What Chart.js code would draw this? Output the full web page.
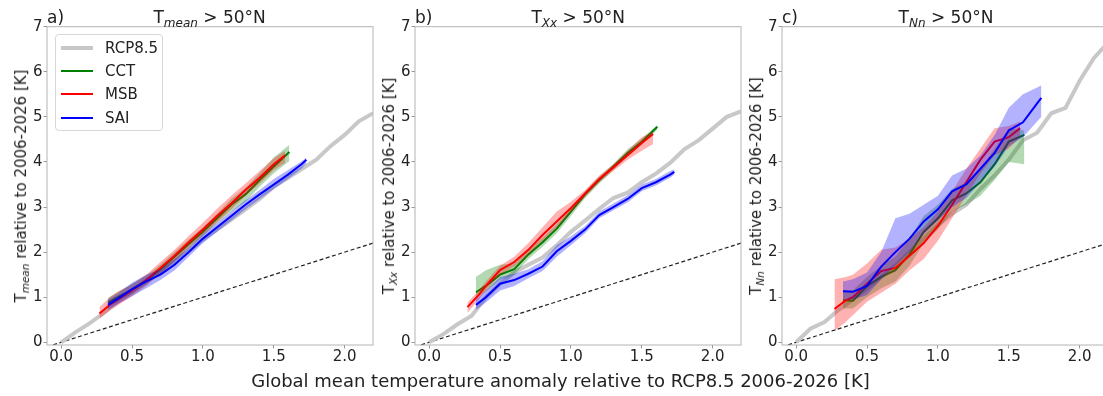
<!DOCTYPE html>
<html>
<head>
<meta charset="utf-8">
<script src="https://cdn.jsdelivr.net/npm/chart.js@4.4.1/dist/chart.umd.min.js"></script>
<style>
    body { margin: 0; background: #fff; font-family: "DejaVu Sans", sans-serif; color: #222; }
    #wrap { position: relative; width: 1103px; height: 396px; overflow: hidden; }
    canvas { position: absolute; top: 0; }
    .ttl { position: absolute; top: 7px; font-size: 17px; white-space: nowrap; line-height: normal; }
    .ttl.center { transform: translateX(-50%); }
    .sub { font-style: italic; position: relative; }
    .ylab { position: absolute; font-size: 15px; white-space: nowrap; line-height: normal;
            transform: translate(-50%, -50%) rotate(-90deg); }
    #xlab { position: absolute; left: 560.5px; top: 370px; transform: translateX(-50%);
            font-size: 18px; white-space: nowrap; line-height: normal; }
    #legend { position: absolute; left: 55px; top: 34px; width: 108px; height: 97px; box-sizing: border-box;
              border: 1px solid #d6d6d6; border-radius: 4px; background: rgba(255,255,255,0.85); }
    .leg { position: absolute; left: 5px; height: 20px; display: flex; align-items: center; font-size: 15px; }
    .leg i { display: inline-block; width: 32px; margin-right: 12px; }
</style>
</head>
<body>
<div id="wrap">
    <canvas id="chartA" width="376" height="372"></canvas>
    <canvas id="chartB" width="376" height="372"></canvas>
    <canvas id="chartC" width="376" height="372"></canvas>

    <div class="ttl" style="left:47px">a)</div>
    <div class="ttl" style="left:415px">b)</div>
    <div class="ttl" style="left:782px">c)</div>
    <div class="ttl center" style="left:209.6px">T<span class="sub" style="font-size:12px;top:4px">mean</span> &gt; 50°N</div>
    <div class="ttl center" style="left:578.2px">T<span class="sub" style="font-size:12px;top:4px">Xx</span> &gt; 50°N</div>
    <div class="ttl center" style="left:946px">T<span class="sub" style="font-size:12px;top:4px">Nn</span> &gt; 50°N</div>

    <div class="ylab" style="left:21px;top:186px">T<span class="sub" style="font-size:10.5px;top:3px">mean</span> relative to 2006-2026 [K]</div>
    <div class="ylab" style="left:389px;top:186px">T<span class="sub" style="font-size:10.5px;top:3px">Xx</span> relative to 2006-2026 [K]</div>
    <div class="ylab" style="left:756px;top:186px">T<span class="sub" style="font-size:10.5px;top:3px">Nn</span> relative to 2006-2026 [K]</div>

    <div id="xlab">Global mean temperature anomaly relative to RCP8.5 2006-2026 [K]</div>

    <div id="legend"></div>
</div>

<script>
// 坐标轴刻度
const xTicks = [0, 0.5, 1, 1.5, 2];
const yTicks = [0, 1, 2, 3, 4, 5, 6, 7];

// 各情景的全球升温 x 值
const xGray = [0, 0.1, 0.2, 0.3, 0.4, 0.5, 0.6, 0.7, 0.8, 0.9, 1.0, 1.1, 1.2, 1.3, 1.4, 1.5, 1.6, 1.7, 1.8, 1.9, 2.0, 2.1, 2.2];
const xCCT = [0.33, 0.4, 0.5, 0.6, 0.7, 0.8, 0.9, 1.0, 1.1, 1.2, 1.3, 1.4, 1.5, 1.61];
const xMSB = [0.27, 0.35, 0.4, 0.5, 0.6, 0.7, 0.8, 0.9, 1.0, 1.1, 1.2, 1.3, 1.4, 1.5, 1.58];
const xSAI = [0.33, 0.4, 0.5, 0.6, 0.7, 0.8, 0.9, 1.0, 1.1, 1.2, 1.3, 1.4, 1.5, 1.6, 1.7, 1.73];
const xOneToOne = [-0.1, 2.2];
const yOneToOne = [-0.1, 2.2];

// a) Tmean
const grayA = [0, 0.22, 0.42, 0.65, 0.9, 1.12, 1.35, 1.55, 1.78, 2.02, 2.28, 2.5, 2.72, 2.95, 3.18, 3.45, 3.65, 3.85, 4.05, 4.35, 4.6, 4.9, 5.08];
const cctA   = [0.88, 1.0, 1.17, 1.38, 1.62, 1.9, 2.18, 2.45, 2.75, 3.05, 3.28, 3.6, 3.9, 4.22];
const cctALo = [0.78, 0.9, 1.08, 1.28, 1.52, 1.8, 2.08, 2.35, 2.65, 2.9, 3.12, 3.45, 3.75, 4.02];
const cctAHi = [0.98, 1.12, 1.3, 1.48, 1.72, 2.0, 2.28, 2.55, 2.85, 3.18, 3.42, 3.75, 4.1, 4.38];
const msbA   = [0.64, 0.85, 0.95, 1.15, 1.38, 1.65, 1.92, 2.22, 2.5, 2.8, 3.08, 3.38, 3.65, 3.95, 4.15];
const msbALo = [0.52, 0.72, 0.82, 1.02, 1.25, 1.52, 1.8, 2.1, 2.38, 2.66, 2.95, 3.25, 3.52, 3.82, 3.98];
const msbAHi = [0.78, 1.02, 1.12, 1.28, 1.5, 1.78, 2.05, 2.36, 2.65, 2.96, 3.25, 3.52, 3.8, 4.08, 4.25];
const saiA   = [0.83, 0.97, 1.18, 1.35, 1.5, 1.72, 2.0, 2.3, 2.55, 2.8, 3.05, 3.28, 3.5, 3.72, 3.96, 4.05];
const saiALo = [0.72, 0.85, 1.02, 1.2, 1.38, 1.6, 1.9, 2.2, 2.45, 2.7, 2.95, 3.18, 3.4, 3.62, 3.86, 3.97];
const saiAHi = [0.95, 1.08, 1.32, 1.5, 1.62, 1.85, 2.1, 2.4, 2.65, 2.9, 3.15, 3.38, 3.62, 3.82, 4.02, 4.1];

// b) TXx
const grayB = [0, 0.18, 0.4, 0.59, 1.0, 1.3, 1.55, 1.72, 1.88, 2.15, 2.45, 2.7, 2.96, 3.2, 3.32, 3.55, 3.74, 3.98, 4.28, 4.48, 4.74, 5.0, 5.12];
const cctB   = [1.11, 1.25, 1.5, 1.62, 1.95, 2.22, 2.52, 2.9, 3.28, 3.6, 3.9, 4.2, 4.45, 4.78];
const cctBLo = [0.98, 1.12, 1.38, 1.5, 1.85, 2.12, 2.42, 2.8, 3.2, 3.52, 3.82, 4.12, 4.38, 4.72];
const cctBHi = [1.45, 1.6, 1.72, 1.75, 2.05, 2.32, 2.62, 2.98, 3.35, 3.68, 3.96, 4.28, 4.52, 4.82];
const msbB   = [0.78, 1.05, 1.25, 1.6, 1.78, 2.05, 2.38, 2.68, 2.98, 3.3, 3.62, 3.88, 4.15, 4.42, 4.62];
const msbBLo = [0.65, 0.95, 1.15, 1.5, 1.68, 1.95, 2.25, 2.55, 2.88, 3.22, 3.55, 3.8, 4.05, 4.25, 4.4];
const msbBHi = [0.88, 1.15, 1.35, 1.7, 1.9, 2.2, 2.55, 2.9, 3.12, 3.38, 3.7, 3.95, 4.25, 4.55, 4.68];
const saiB   = [0.83, 1.0, 1.3, 1.38, 1.52, 1.68, 2.02, 2.25, 2.5, 2.82, 3.0, 3.18, 3.42, 3.55, 3.72, 3.78];
const saiBLo = [0.72, 0.88, 1.15, 1.25, 1.42, 1.58, 1.9, 2.15, 2.42, 2.75, 2.93, 3.1, 3.35, 3.48, 3.65, 3.72];
const saiBHi = [0.95, 1.15, 1.45, 1.52, 1.62, 1.8, 2.15, 2.35, 2.58, 2.9, 3.08, 3.26, 3.5, 3.62, 3.8, 3.84];

// c) TNn
const grayC = [0, 0.3, 0.45, 0.72, 0.95, 1.2, 1.45, 1.7, 2.0, 2.3, 2.6, 2.85, 3.05, 3.4, 3.7, 4.05, 4.48, 4.65, 5.08, 5.2, 5.8, 6.3, 6.65];
const cctC   = [0.93, 0.92, 1.25, 1.45, 1.6, 1.95, 2.45, 2.75, 3.15, 3.3, 3.55, 3.95, 4.45, 4.6];
const cctCLo = [0.75, 0.75, 1.0, 1.2, 1.35, 1.7, 2.2, 2.5, 2.9, 3.05, 3.25, 3.6, 4.0, 3.95];
const cctCHi = [1.15, 1.15, 1.45, 1.7, 1.9, 2.3, 2.8, 3.05, 3.4, 3.55, 3.85, 4.3, 4.75, 4.7];
const msbC   = [0.74, 0.93, 1.0, 1.3, 1.58, 1.65, 1.92, 2.2, 2.58, 3.05, 3.55, 4.05, 4.45, 4.55, 4.75];
const msbCLo = [0.25, 0.45, 0.6, 0.9, 1.1, 1.3, 1.6, 1.85, 2.25, 2.75, 3.25, 3.75, 4.15, 4.3, 4.55];
const msbCHi = [1.4, 1.45, 1.5, 1.75, 2.05, 2.1, 2.3, 2.55, 2.9, 3.35, 3.85, 4.3, 4.75, 4.8, 4.9];
const saiC   = [1.13, 1.12, 1.25, 1.68, 2.0, 2.3, 2.68, 2.95, 3.35, 3.5, 3.85, 4.2, 4.7, 4.88, 5.3, 5.42];
const saiCLo = [0.95, 0.95, 1.05, 1.4, 1.7, 2.0, 2.4, 2.7, 3.0, 3.2, 3.55, 3.9, 4.35, 4.55, 4.9, 5.0];
const saiCHi = [1.35, 1.4, 1.55, 2.0, 2.75, 2.85, 3.05, 3.25, 3.7, 3.85, 4.15, 4.6, 5.2, 5.5, 5.65, 5.7];

// 颜色
const GRAY = '#c8c8c8';
const colors = { CCT: 'rgb(0,128,0)', MSB: 'rgb(255,0,0)', SAI: 'rgb(0,0,255)' };
const bandColors = { CCT: 'rgba(0,128,0,0.3)', MSB: 'rgba(255,0,0,0.3)', SAI: 'rgba(0,0,255,0.3)' };
const SPINE = '#b4b4b4';

// 面板位置（像素）
const panelLeft = [46.6, 415.2, 782.4];
const axisW = 45;

function pts(xs, ys) {
    return xs.map((x, i) => ({ x: x, y: ys[i] }));
}

function lineSet(label, xs, ys, color, width, order, dash) {
    return {
        label: label, data: pts(xs, ys), borderColor: color, borderWidth: width,
        borderDash: dash || [], pointRadius: 0, fill: false, order: order, clip: 0, tension: 0
    };
}

function bandSets(xs, lo, hi, color, order) {
    return [
        { data: pts(xs, lo), borderWidth: 0, borderColor: 'transparent', pointRadius: 0, fill: false, order: order, clip: 0 },
        { data: pts(xs, hi), borderWidth: 0, borderColor: 'transparent', pointRadius: 0, fill: '-1',
          backgroundColor: color, order: order, clip: 0 }
    ];
}

// 绘制四周边框
const framePlugin = {
    id: 'frame',
    afterDraw(chart) {
        const { ctx, chartArea: a } = chart;
        ctx.save();
        ctx.strokeStyle = SPINE;
        ctx.lineWidth = 1;
        ctx.strokeRect(a.left, a.top, a.right - a.left, a.bottom - a.top);
        ctx.restore();
    }
};

function makeChart(id, idx, gray, cct, msb, sai) {
    const canvas = document.getElementById(id);
    canvas.style.left = (panelLeft[idx] - axisW) + 'px';

    const datasets = [
        lineSet('1:1', xOneToOne, yOneToOne, '#222', 1.2, 10, [4, 2.5]),
        lineSet('RCP8.5', xGray, gray, GRAY, 4, 9),
        ...bandSets(xCCT, cct[1], cct[2], bandColors.CCT, 8),
        lineSet('CCT', xCCT, cct[0], colors.CCT, 2, 7),
        ...bandSets(xMSB, msb[1], msb[2], bandColors.MSB, 6),
        lineSet('MSB', xMSB, msb[0], colors.MSB, 2, 5),
        ...bandSets(xSAI, sai[1], sai[2], bandColors.SAI, 4),
        lineSet('SAI', xSAI, sai[0], colors.SAI, 2, 3)
    ];

    return new Chart(canvas, {
        type: 'line',
        data: { datasets: datasets },
        options: {
            responsive: false,
            animation: false,
            layout: { padding: { left: 0, right: 5, top: 26.7, bottom: 0 } },
            plugins: { legend: { display: false }, tooltip: { enabled: false } },
            scales: {
                x: {
                    type: 'linear', min: -0.1, max: 2.2,
                    afterBuildTicks: s => { s.ticks = xTicks.map(v => ({ value: v })); },
                    afterFit: s => { s.height = 27; },
                    grid: { display: true, drawOnChartArea: false, drawTicks: true, tickLength: 3.5, color: '#999' },
                    border: { display: false },
                    ticks: { color: '#222', padding: 0, maxRotation: 0, font: { size: 15 },
                             callback: v => v.toFixed(1) }
                },
                y: {
                    type: 'linear', min: -0.06, max: 7,
                    afterBuildTicks: s => { s.ticks = yTicks.map(v => ({ value: v })); },
                    afterFit: s => { s.width = axisW; },
                    grid: { display: true, drawOnChartArea: false, drawTicks: true, tickLength: 3.5, color: '#999' },
                    border: { display: false },
                    ticks: { color: '#222', padding: 1, font: { size: 15 }, callback: v => String(v) }
                }
            }
        },
        plugins: [framePlugin]
    });
}

Chart.defaults.font.family = '"DejaVu Sans", sans-serif';

makeChart('chartA', 0, grayA, [cctA, cctALo, cctAHi], [msbA, msbALo, msbAHi], [saiA, saiALo, saiAHi]);
makeChart('chartB', 1, grayB, [cctB, cctBLo, cctBHi], [msbB, msbBLo, msbBHi], [saiB, saiBLo, saiBHi]);
makeChart('chartC', 2, grayC, [cctC, cctCLo, cctCHi], [msbC, msbCLo, msbCHi], [saiC, saiCLo, saiCHi]);

// 图例（面板 a）
const legendItems = [
    { label: 'RCP8.5', color: GRAY, width: 4 },
    { label: 'CCT', color: colors.CCT, width: 2 },
    { label: 'MSB', color: colors.MSB, width: 2 },
    { label: 'SAI', color: colors.SAI, width: 2 }
];
const legend = document.getElementById('legend');
legend.innerHTML = legendItems.map((item, i) => `
    <div class="leg" style="top:${2.7 + i * 23.3}px">
        <i style="height:${item.width}px;background:${item.color}"></i>${item.label}
    </div>
`).join('');
</script>
</body>
</html>
